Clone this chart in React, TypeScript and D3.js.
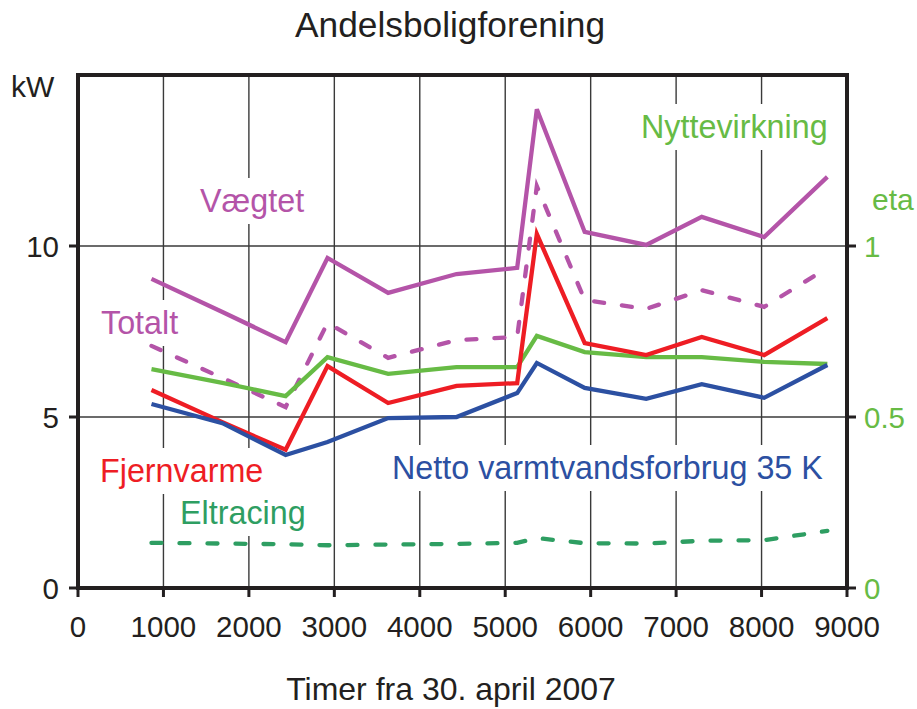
import { useRef, useEffect } from 'react';
import * as d3 from 'd3';

// hours since 30 April 2007
const hours = [860, 1690, 2430, 2920, 3630, 4430, 5140, 5370, 5930, 6650, 7300, 8030, 8770];
const vaegtet = [9.04, 8.07, 7.19, 9.65, 8.63, 9.18, 9.36, 14.0, 10.41, 10.03, 10.85, 10.26, 12.02];
const totalt = [7.08, 6.14, 5.29, 7.75, 6.73, 7.25, 7.34, 11.75, 8.42, 8.16, 8.71, 8.22, 9.36];
const fjernvarme = [5.79, 4.85, 4.04, 6.49, 5.41, 5.91, 5.99, 10.35, 7.16, 6.81, 7.34, 6.81, 7.89];
const netto = [5.38, 4.82, 3.89, 4.27, 4.97, 5.0, 5.7, 6.58, 5.85, 5.53, 5.96, 5.56, 6.52];
const eltracing = [1.32, 1.3, 1.28, 1.25, 1.27, 1.29, 1.32, 1.46, 1.31, 1.3, 1.38, 1.4, 1.67];
// eta, right axis
const nyttevirkning = [0.64, 0.6, 0.561, 0.675, 0.626, 0.646, 0.646, 0.737, 0.69, 0.675, 0.675, 0.661, 0.655];

const xTicks = [0, 1000, 2000, 3000, 4000, 5000, 6000, 7000, 8000, 9000];
const kwTicks = [0, 5, 10];
const etaTicks = [0, 0.5, 1];

const PURPLE = '#b454a8';
const RED = '#ee1d24';
const GREEN = '#67bb45';
const DKGREEN = '#2e9e62';
const BLUE = '#2c50a2';
const INK = '#231f20';
const FONT = '"Liberation Sans", Arial, sans-serif';

const W = 917;
const H = 709;
const M = { left: 78, right: 847, top: 75, bottom: 588 };

export default function App() {
  const svgRef = useRef<SVGSVGElement>(null);

  useEffect(() => {
    if (!svgRef.current) return;
    const svg = d3.select(svgRef.current);
    svg.selectAll('*').remove();

    const x = d3.scaleLinear().domain([0, 9000]).range([M.left, M.right]);
    const y = d3.scaleLinear().domain([0, 15]).range([M.bottom, M.top]);
    const yEta = d3.scaleLinear().domain([0, 1.5]).range([M.bottom, M.top]);

    svg.attr('font-family', FONT);

    // grid
    const grid = svg.append('g').attr('stroke', '#3a3a3a').attr('stroke-width', 1.4);
    xTicks.slice(1, -1).forEach((t) => {
      grid.append('line')
        .attr('x1', x(t)).attr('x2', x(t))
        .attr('y1', M.top).attr('y2', M.bottom);
    });
    [5, 10].forEach((t) => {
      grid.append('line')
        .attr('x1', M.left).attr('x2', M.right)
        .attr('y1', y(t)).attr('y2', y(t));
    });

    // series labels with white boxes that break the grid
    const labels = [
      { text: 'Vægtet', x: 200, y: 212, color: PURPLE },
      { text: 'Totalt', x: 101, y: 334, color: PURPLE },
      { text: 'Nyttevirkning', x: 641, y: 138, color: GREEN },
      { text: 'Fjernvarme', x: 100, y: 482, color: RED },
      { text: 'Eltracing', x: 180, y: 524, color: DKGREEN },
      { text: 'Netto varmtvandsforbrug 35 K', x: 392, y: 479, color: BLUE },
    ];
    const lg = svg.append('g');
    labels.forEach((l) => {
      const box = lg.append('rect').attr('fill', '#fff');
      const t = lg.append('text')
        .attr('x', l.x).attr('y', l.y)
        .attr('font-size', 32.3)
        .attr('fill', l.color)
        .text(l.text);
      const b = (t.node() as SVGTextElement).getBBox();
      box.attr('x', b.x - 5).attr('y', b.y - 5)
        .attr('width', b.width + 10).attr('height', b.height + 10);
    });

    // series
    const kwLine = d3.line<number>().x((_, i) => x(hours[i])).y((d) => y(d));
    const etaLine = d3.line<number>().x((_, i) => x(hours[i])).y((d) => yEta(d));
    const series = [
      { data: vaegtet, color: PURPLE, dash: null, line: kwLine },
      { data: totalt, color: PURPLE, dash: '10,18', line: kwLine },
      { data: nyttevirkning, color: GREEN, dash: null, line: etaLine },
      { data: fjernvarme, color: RED, dash: null, line: kwLine },
      { data: netto, color: BLUE, dash: null, line: kwLine },
      { data: eltracing, color: DKGREEN, dash: '10,18', line: kwLine },
    ];
    series.forEach((s) => {
      svg.append('path')
        .attr('d', s.line(s.data) as string)
        .attr('fill', 'none')
        .attr('stroke', s.color)
        .attr('stroke-width', 4.3)
        .attr('stroke-linejoin', 'miter')
        .attr('stroke-linecap', s.dash ? 'round' : 'butt')
        .attr('stroke-dasharray', s.dash);
    });

    // frame
    svg.append('rect')
      .attr('x', M.left).attr('y', M.top)
      .attr('width', M.right - M.left).attr('height', M.bottom - M.top)
      .attr('fill', 'none').attr('stroke', INK).attr('stroke-width', 4);

    // bottom axis
    const ax = svg.append('g');
    xTicks.forEach((t) => {
      ax.append('line')
        .attr('x1', x(t)).attr('x2', x(t))
        .attr('y1', M.bottom).attr('y2', M.bottom + 9)
        .attr('stroke', INK).attr('stroke-width', 3);
      ax.append('text')
        .attr('x', x(t)).attr('y', 637)
        .attr('text-anchor', 'middle')
        .attr('font-size', 29.5)
        .attr('fill', INK)
        .text(t);
    });

    // left axis
    kwTicks.forEach((t) => {
      ax.append('line')
        .attr('x1', M.left - 9).attr('x2', M.left)
        .attr('y1', y(t)).attr('y2', y(t))
        .attr('stroke', INK).attr('stroke-width', 3);
      ax.append('text')
        .attr('x', 59).attr('y', y(t) + 11)
        .attr('text-anchor', 'end')
        .attr('font-size', 29.5)
        .attr('fill', INK)
        .text(t);
    });

    // right axis (eta)
    etaTicks.forEach((t) => {
      ax.append('line')
        .attr('x1', M.right).attr('x2', M.right + 9)
        .attr('y1', yEta(t)).attr('y2', yEta(t))
        .attr('stroke', INK).attr('stroke-width', 3);
      ax.append('text')
        .attr('x', 864).attr('y', yEta(t) + 11)
        .attr('font-size', 29.5)
        .attr('fill', GREEN)
        .text(t);
    });

    svg.append('text')
      .attr('x', 11).attr('y', 97)
      .attr('font-size', 30).attr('fill', INK)
      .text('kW');
    svg.append('text')
      .attr('x', 872).attr('y', 210)
      .attr('font-size', 30).attr('fill', GREEN)
      .text('eta');

    svg.append('text')
      .attr('x', 450).attr('y', 37)
      .attr('text-anchor', 'middle')
      .attr('font-size', 35.3).attr('fill', INK)
      .text('Andelsboligforening');
    svg.append('text')
      .attr('x', 451).attr('y', 700)
      .attr('text-anchor', 'middle')
      .attr('font-size', 32).attr('fill', INK)
      .text('Timer fra 30. april 2007');
  }, []);

  return (
    <svg
      ref={svgRef}
      width={W}
      height={H}
      style={{ position: 'absolute', left: 0, top: 0, background: '#fff' }}
    />
  );
}
